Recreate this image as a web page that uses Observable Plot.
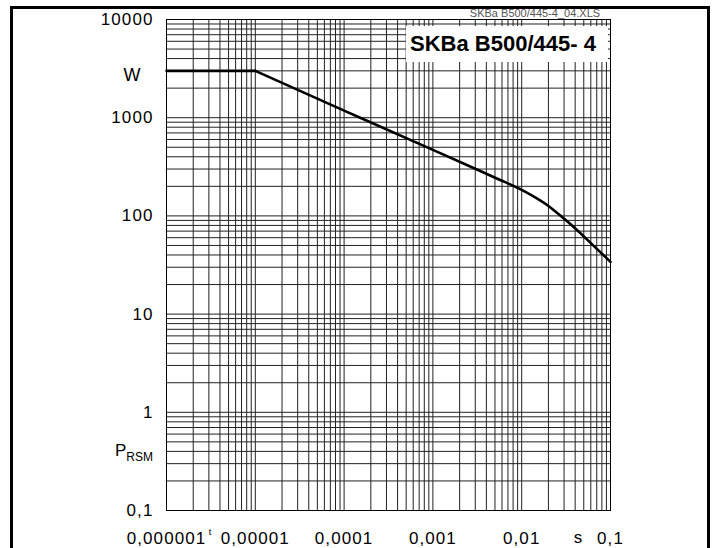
<!DOCTYPE html>
<html>
<head>
<meta charset="utf-8">
<script src="https://cdn.jsdelivr.net/npm/d3@7"></script>
<script src="https://cdn.jsdelivr.net/npm/@observablehq/plot@0.6"></script>
<style>
  html, body { margin: 0; padding: 0; background: #fff; overflow: hidden; }
  #wrap { position: relative; width: 717px; height: 548px; }
  #frame { position: absolute; left: 10px; top: 6px; width: 700px; height: 560px; box-sizing: border-box;
           border-left: 3px solid #000; border-top: 3px solid #000; border-right: 3px solid #000; pointer-events: none; }
  svg [aria-label^="x-axis tick label"] text, svg [aria-label^="y-axis tick label"] text { letter-spacing: 1.1px; }
</style>
</head>
<body>
<div id="wrap"><div id="frame"></div></div>
<script>
// ---- data ----
const timeS  = [1e-6, 1e-5, 1e-4, 1e-3, 3e-3, 5.8e-3, 0.01, 0.0163, 0.0207, 0.0325, 0.055, 0.1];
const powerW = [3000, 3000, 1180, 470, 302, 231, 184, 143, 123, 88, 57, 34];

const xTicks = [1e-6, 1e-5, 1e-4, 1e-3, 1e-2, 1e-1];
const xTickLabels = ["0,000001", "0,00001", "0,0001", "0,001", "0,01", "0,1"];
const yTicks = [0.1, 1, 10, 100, 1000, 10000];
const yTickLabels = ["0,1", "1", "10", "100", "1000", "10000"];

const title = "SKBa B500/445- 4";
const fileName = "SKBa B500/445-4_04.XLS";
const yUnit = "W";
const ySymbol = "P";
const ySymbolSub = "RSM";
const xUnit = "s";
const xTickSup = "t";

// ---- derived ----
const points = timeS.map((t, i) => ({t, p: powerW[i]}));
const grid = (ticks) => {
  const out = [];
  for (let i = 0; i < ticks.length - 1; i++) for (let k = 1; k <= 9; k++) out.push(k * ticks[i]);
  out.push(ticks[ticks.length - 1]);
  return out;
};
const xGrid = grid(xTicks);
const yGrid = grid(yTicks);
const lookup = (ticks, labels) => d => labels[ticks.findIndex(v => Math.abs(v - d) / v < 1e-9)];

const chart = Plot.plot({
  width: 717, height: 548,
  marginLeft: 166, marginRight: 107, marginTop: 19, marginBottom: 38,
  x: {type: "log", domain: [1e-6, 0.1]},
  y: {type: "log", domain: [0.1, 10000]},
  style: {fontFamily: "'Liberation Sans', Arial, sans-serif", fontSize: "17px", color: "#000", background: "#fff", overflow: "visible"},
  marks: [
    Plot.ruleX(xGrid, {stroke: "#222", strokeWidth: 1}),
    Plot.ruleY(yGrid, {stroke: "#222", strokeWidth: 1}),
    Plot.frame({stroke: "#000"}),
    Plot.line(points.slice(0, 2), {x: "t", y: "p", stroke: "#000", strokeWidth: 2.6}),
    Plot.line(points.slice(1), {x: "t", y: "p", stroke: "#000", strokeWidth: 2.6, curve: "natural"}),
    Plot.axisX({ticks: xTicks, tickFormat: lookup(xTicks, xTickLabels), tickSize: 0, tickPadding: 21, fontSize: 17, label: null}),
    Plot.axisY({ticks: yTicks, tickFormat: lookup(yTicks, yTickLabels), tickSize: 0, tickPadding: 13, fontSize: 17, label: null})
  ]
});
document.getElementById("wrap").insertBefore(chart, document.getElementById("frame"));

// ---- annotations ----
(function () {
  const sx = chart.scale("x"), sy = chart.scale("y");
  const svg = d3.select(chart);
  const font = "'Liberation Sans', Arial, sans-serif";
  const xL = sx.apply(xTicks[0]), xR = sx.apply(xTicks[xTicks.length - 1]);
  const yT = sy.apply(yTicks[yTicks.length - 1]), yB = sy.apply(yTicks[0]);

  // title box
  svg.append("rect").attr("x", xR - 204).attr("y", yT + 7).attr("width", 202).attr("height", 36).attr("fill", "#fff");
  svg.append("text").attr("x", xR - 107).attr("y", yT + 32).attr("text-anchor", "middle")
    .attr("font-family", font).attr("font-weight", "bold").attr("font-size", 22).text(title);

  // file name
  svg.append("text").attr("x", xR - 75).attr("y", yT - 2).attr("text-anchor", "middle")
    .attr("font-family", font).attr("font-size", 11).attr("fill", "#555").text(fileName);

  // unit W
  svg.append("text").attr("x", xL - 34).attr("y", yT + 62).attr("text-anchor", "middle")
    .attr("font-family", font).attr("font-size", 18).text(yUnit);

  // P_RSM
  const ps = svg.append("text").attr("x", xL - 13).attr("y", yB - 54).attr("text-anchor", "end")
    .attr("font-family", font).attr("font-size", 17);
  ps.append("tspan").text(ySymbol);
  ps.append("tspan").attr("font-size", 12).attr("dy", 5).text(ySymbolSub);

  // superscript t
  svg.append("text").attr("x", xL + 44).attr("y", yB + 25).attr("font-family", font).attr("font-size", 9).text(xTickSup);

  // unit s
  svg.append("text").attr("x", xR - 32).attr("y", yB + 33).attr("text-anchor", "middle")
    .attr("font-family", font).attr("font-size", 17).text(xUnit);
})();
</script>
</body>
</html>
